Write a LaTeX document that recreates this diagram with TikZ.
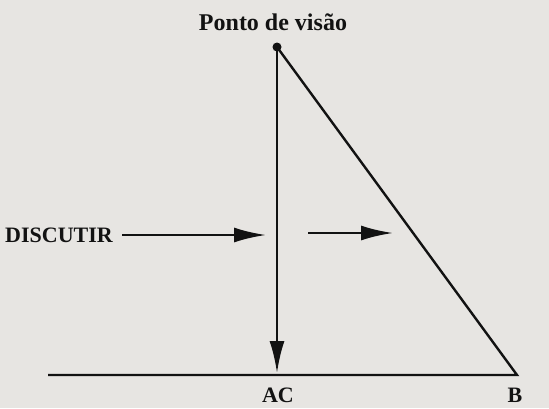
\documentclass[tikz,border=0pt]{standalone}
\usepackage{fontspec}
\setmainfont{Liberation Serif}
\usetikzlibrary{arrows.meta}
\definecolor{bgc}{RGB}{231,229,226}
\definecolor{ink}{RGB}{18,18,18}
\begin{document}
\begin{tikzpicture}[x=1pt,y=-1pt,
  ln/.style={draw=ink,line width=2.4pt,line join=miter},
  arr/.style={ln,line width=2.6pt,-{Latex[length=32pt,width=15pt]}},
  lbl/.style={text=ink,inner sep=0pt,anchor=base,font=\bfseries\fontsize{22}{22}\selectfont},
  title/.style={lbl,font=\bfseries\fontsize{24}{24}\selectfont}]
\fill[bgc] (0,0) rectangle (549,408);
\useasboundingbox (0,0) rectangle (549,408);
\node[title] (ponto) at (273,30) {Ponto de visão};
\node[lbl] (disc) at (59,242) {DISCUTIR};
\node[lbl] (ac) at (278,402) {AC};
\node[lbl] (b) at (515,402) {B};
\coordinate (P) at (277,47);
\coordinate (Q) at (277,373);
\coordinate (L) at (48,375);
\coordinate (B) at (517,375);
\coordinate (a1s) at (122,235);
\coordinate (a1e) at (266,235);
\coordinate (a2s) at (308,233);
\coordinate (a2e) at (393,233);
\fill[ink] (P) circle (4.5pt);
\draw[ln] (L) -- (B) -- (P);
\draw[arr] (P) -- (Q);
\draw[arr] (a1s) -- (a1e);
\draw[arr] (a2s) -- (a2e);
\end{tikzpicture}
\end{document}
